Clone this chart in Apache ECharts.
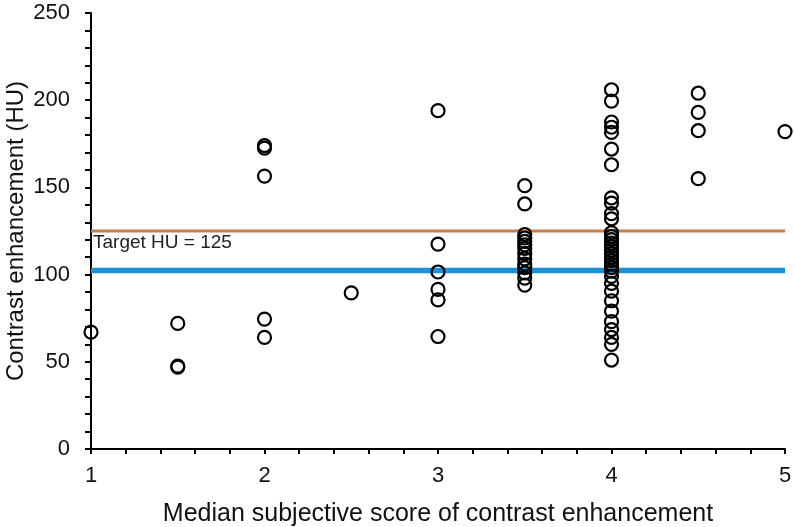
<!DOCTYPE html>
<html>
<head>
<meta charset="utf-8">
<script src="https://cdn.jsdelivr.net/npm/echarts@6/dist/echarts.min.js"></script>
<style>
html,body{margin:0;padding:0;background:#fff;}
#chart{width:794px;height:527px;}
</style>
</head>
<body>
<div id="chart"></div>
<script>
// Median subjective scores (x positions)
const scores = [1, 1.5, 2, 2.5, 3, 3.5, 4, 4.5, 5];
// Contrast enhancement (HU) values per score
const hu_1_0 = [67];
const hu_1_5 = [72, 47.5, 47];
const hu_2_0 = [174, 172.5, 156.5, 74.5, 64];
const hu_2_5 = [89.5];
const hu_3_0 = [194, 117.5, 101.5, 91.5, 85.5, 64.5];
const hu_3_5 = [151, 140.5, 123, 121, 119, 117, 115, 112, 109, 106, 104, 101, 98, 94];
const hu_4_0 = [206, 199.5, 187.5, 184.5, 181.5, 172, 163, 144, 141, 135, 132, 124, 122, 120, 118, 116, 114, 112, 110, 108, 106, 104, 102, 99, 95, 90.5, 85, 79, 73, 68.5, 64, 60, 51];
const hu_4_5 = [204, 193, 182.5, 155];
const hu_5_0 = [182];
const huGroups = [hu_1_0, hu_1_5, hu_2_0, hu_2_5, hu_3_0, hu_3_5, hu_4_0, hu_4_5, hu_5_0];

// Reference lines
const targetHU = 125;
const blueLineHU = 102.3;
const lineXRange = [1, 5];

// Axis ticks
const xTicks = [1, 2, 3, 4, 5];
const yTicks = [0, 50, 100, 150, 200, 250];

const pts = [];
huGroups.forEach((g, i) => g.forEach(v => pts.push([scores[i], v])));

const FONT = '"Liberation Sans", Arial, sans-serif';
const chart = echarts.init(document.getElementById('chart'), null, {renderer: 'canvas'});
chart.setOption({
  animation: false,
  backgroundColor: '#fff',
  grid: {left: 91, right: 9, top: 13, bottom: 78, containLabel: false, outerBoundsMode: 'none'},
  xAxis: {
    type: 'value', min: xTicks[0], max: xTicks[xTicks.length - 1], interval: 1,
    name: 'Median subjective score of contrast enhancement',
    nameLocation: 'middle', nameGap: 53, nameMoveOverlap: false,
    nameTextStyle: {fontFamily: FONT, fontSize: 25, color: '#111'},
    axisLine: {show: true, onZero: false, lineStyle: {color: '#000', width: 2}},
    axisTick: {show: true, length: 5, lineStyle: {color: '#000', width: 2}},
    minorTick: {show: true, splitNumber: 5, length: 5, lineStyle: {color: '#000', width: 2}},
    splitLine: {show: false},
    axisLabel: {fontFamily: FONT, fontSize: 22, color: '#111', margin: 16}
  },
  yAxis: {
    type: 'value', min: yTicks[0], max: yTicks[yTicks.length - 1], interval: 50,
    name: 'Contrast enhancement (HU)',
    nameLocation: 'middle', nameGap: 63, nameMoveOverlap: false,
    nameTextStyle: {fontFamily: FONT, fontSize: 24, color: '#111'},
    axisLine: {show: true, lineStyle: {color: '#000', width: 2}},
    axisTick: {show: true, length: 6, lineStyle: {color: '#000', width: 2}},
    minorTick: {show: true, splitNumber: 5, length: 6, lineStyle: {color: '#000', width: 2}},
    splitLine: {show: false},
    axisLabel: {fontFamily: FONT, fontSize: 22, color: '#111', margin: 21}
  },
  graphic: [{
    type: 'text', left: 93, top: 233,
    style: {text: 'Target HU = 125', font: '19px ' + FONT, fill: '#222'}
  }],
  series: [
    {
      type: 'line', data: [[lineXRange[0], targetHU], [lineXRange[1], targetHU]],
      symbol: 'none', lineStyle: {color: '#c8804a', width: 3}, z: 1, silent: true
    },
    {
      type: 'line', data: [[lineXRange[0], blueLineHU], [lineXRange[1], blueLineHU]],
      symbol: 'none', lineStyle: {color: '#1a93d6', width: 5.5}, z: 1, silent: true
    },
    {
      type: 'scatter', data: pts, symbol: 'circle', symbolSize: 13,
      itemStyle: {color: 'rgba(0,0,0,0)', borderColor: '#000', borderWidth: 2.2, opacity: 1},
      z: 3, clip: false
    }
  ]
});
</script>
</body>
</html>
